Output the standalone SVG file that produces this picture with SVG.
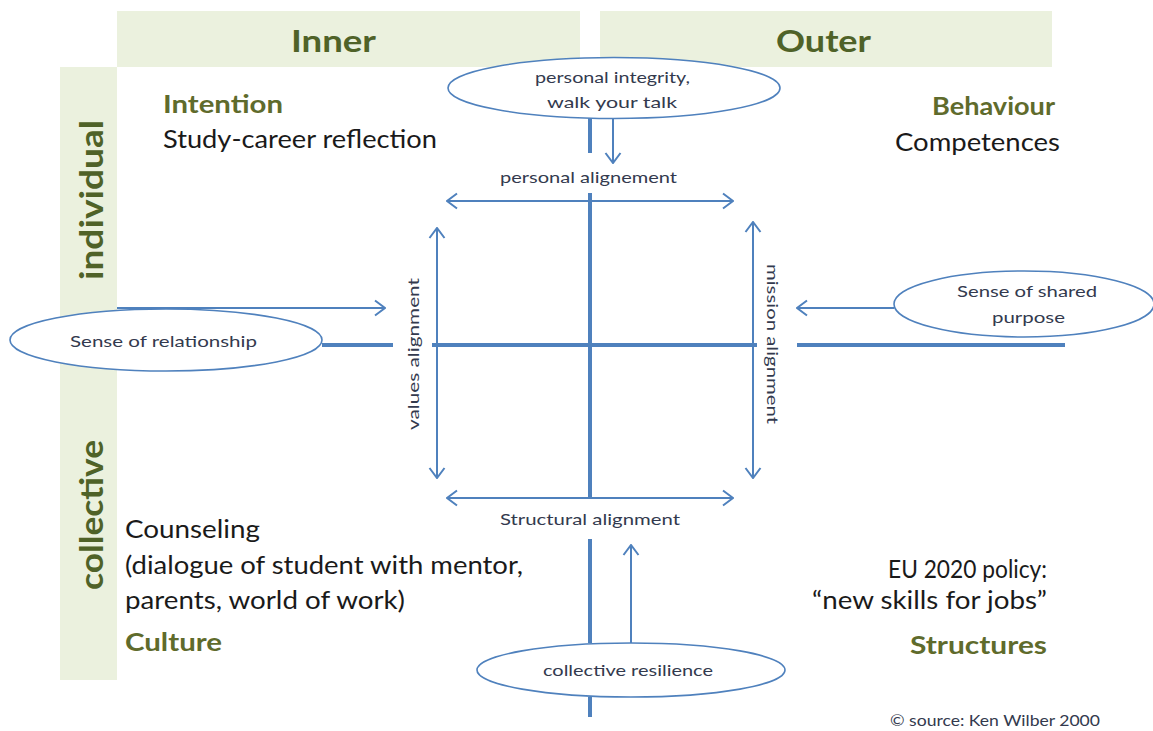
<svg xmlns="http://www.w3.org/2000/svg" width="1153" height="731" viewBox="0 0 1153 731">
  <style>
    .bar { fill: #ebf1de; }
    .head { font-family: Lato, "Liberation Sans", sans-serif; font-weight: bold; fill: #4f6228; }
    .olive { font-family: Lato, "Liberation Sans", sans-serif; font-weight: bold; font-size: 25px; fill: #5f6b2c; }
    .body { font-family: Lato, "Liberation Sans", sans-serif; font-size: 25px; fill: #1a1a1a; }
    .small { font-family: Lato, "Liberation Sans", sans-serif; font-size: 15px; fill: #333a4e; }
    .node { fill: #ffffff; stroke: #4f81bd; stroke-width: 1.6; }
    .thick { stroke: #4f81bd; stroke-width: 4; fill: none; }
    .thin { stroke: #4f81bd; stroke-width: 2; fill: none; }
    .arrow { marker-end: url(#chev); }
    .both { marker-start: url(#chev); marker-end: url(#chev); }
  </style>
  <defs>
    <marker id="chev" viewBox="0 0 12 18" refX="11" refY="9" markerWidth="12" markerHeight="18" orient="auto-start-reverse" markerUnits="userSpaceOnUse">
      <path d="M1,1.5 L11,9 L1,16.5" fill="none" stroke="#4f81bd" stroke-width="2"/>
    </marker>
  </defs>

  <rect width="1153" height="731" fill="#ffffff"/>

  <!-- quadrant header bands -->
  <g id="bands">
    <rect class="bar" x="117" y="11" width="463" height="56"/>
    <rect class="bar" x="600" y="11" width="452" height="56"/>
    <rect class="bar" x="60" y="67" width="57" height="613"/>
    <text class="head" x="291" y="52" font-size="31" textLength="85" lengthAdjust="spacingAndGlyphs">Inner</text>
    <text class="head" x="776" y="52" font-size="31" textLength="95" lengthAdjust="spacingAndGlyphs">Outer</text>
    <text class="head" x="103" y="200" font-size="32" text-anchor="middle" transform="rotate(-90 103 200)" textLength="160" lengthAdjust="spacingAndGlyphs">individual</text>
    <text class="head" x="103" y="515" font-size="32" text-anchor="middle" transform="rotate(-90 103 515)" textLength="150" lengthAdjust="spacingAndGlyphs">collective</text>
  </g>

  <!-- connectors: axes and alignment arrows -->
  <g id="connectors">
    <line class="thick" x1="590" y1="118" x2="590" y2="153"/>
    <line class="thick" x1="590" y1="193" x2="590" y2="497"/>
    <line class="thick" x1="590" y1="539" x2="590" y2="643"/>
    <line class="thick" x1="590" y1="697" x2="590" y2="717"/>
    <line class="thick" x1="322" y1="345" x2="393" y2="345"/>
    <line class="thick" x1="432" y1="345" x2="757" y2="345"/>
    <line class="thick" x1="797" y1="345" x2="1065" y2="345"/>

    <line class="thin both" x1="447" y1="201" x2="733" y2="201"/>
    <line class="thin both" x1="447" y1="498" x2="733" y2="498"/>
    <line class="thin both" x1="437" y1="228" x2="437" y2="478"/>
    <line class="thin both" x1="753" y1="222" x2="753" y2="478"/>

    <line class="thin arrow" x1="613" y1="118" x2="613" y2="163"/>
    <line class="thin arrow" x1="631" y1="643" x2="631" y2="545"/>
    <line class="thin arrow" x1="117" y1="308" x2="385" y2="308"/>
    <line class="thin arrow" x1="894" y1="308" x2="797" y2="308"/>
  </g>

  <!-- quadrant labels -->
  <g id="upper-left">
    <text class="olive" x="163" y="113" textLength="120" lengthAdjust="spacingAndGlyphs">Intention</text>
    <text class="body" x="163" y="148" textLength="274" lengthAdjust="spacingAndGlyphs">Study-career reflection</text>
  </g>
  <g id="upper-right">
    <text class="olive" x="932" y="115" textLength="123" lengthAdjust="spacingAndGlyphs">Behaviour</text>
    <text class="body" x="895" y="151" textLength="165" lengthAdjust="spacingAndGlyphs">Competences</text>
  </g>
  <g id="lower-left">
    <text class="body" x="125" y="538" textLength="135" lengthAdjust="spacingAndGlyphs">Counseling</text>
    <text class="body" x="125" y="574" textLength="398" lengthAdjust="spacingAndGlyphs">(dialogue of student with mentor,</text>
    <text class="body" x="125" y="609" textLength="280" lengthAdjust="spacingAndGlyphs">parents, world of work)</text>
    <text class="olive" x="125" y="651" textLength="97" lengthAdjust="spacingAndGlyphs">Culture</text>
  </g>
  <g id="lower-right">
    <text class="body" x="888" y="578" textLength="159" lengthAdjust="spacingAndGlyphs">EU 2020 policy:</text>
    <text class="body" x="812" y="609" textLength="235" lengthAdjust="spacingAndGlyphs">“new skills for jobs”</text>
    <text class="olive" x="910" y="654" textLength="137" lengthAdjust="spacingAndGlyphs">Structures</text>
  </g>

  <!-- alignment labels -->
  <g id="alignments">
    <text class="small" x="500" y="183" textLength="177" lengthAdjust="spacingAndGlyphs">personal alignement</text>
    <text class="small" x="500" y="525" textLength="180" lengthAdjust="spacingAndGlyphs">Structural alignment</text>
    <text class="small" x="419" y="354" text-anchor="middle" transform="rotate(-90 419 354)" textLength="152" lengthAdjust="spacingAndGlyphs">values  alignment</text>
    <text class="small" x="767" y="344" text-anchor="middle" transform="rotate(90 767 344)" textLength="160" lengthAdjust="spacingAndGlyphs">mission alignment</text>
  </g>

  <!-- driver ellipses -->
  <g id="integrity">
    <ellipse class="node" cx="614" cy="88" rx="166" ry="30.5"/>
    <text class="small" x="535" y="83" textLength="155" lengthAdjust="spacingAndGlyphs">personal integrity,</text>
    <text class="small" x="547" y="108" textLength="130" lengthAdjust="spacingAndGlyphs">walk   your talk</text>
  </g>
  <g id="relationship">
    <ellipse class="node" cx="166" cy="340" rx="156" ry="31"/>
    <text class="small" x="70" y="347" textLength="187" lengthAdjust="spacingAndGlyphs">Sense of relationship</text>
  </g>
  <g id="shared-purpose">
    <ellipse class="node" cx="1024" cy="304" rx="130" ry="33"/>
    <text class="small" x="957" y="297" textLength="140" lengthAdjust="spacingAndGlyphs">Sense of shared</text>
    <text class="small" x="992" y="323" textLength="73" lengthAdjust="spacingAndGlyphs">purpose</text>
  </g>
  <g id="resilience">
    <ellipse class="node" cx="631" cy="670" rx="154" ry="27"/>
    <text class="small" x="543" y="676" textLength="170" lengthAdjust="spacingAndGlyphs">collective  resilience</text>
  </g>

  <g id="source">
    <text class="small" x="890" y="726" font-size="13" textLength="210" lengthAdjust="spacingAndGlyphs">© source: Ken Wilber 2000</text>
  </g>
</svg>
